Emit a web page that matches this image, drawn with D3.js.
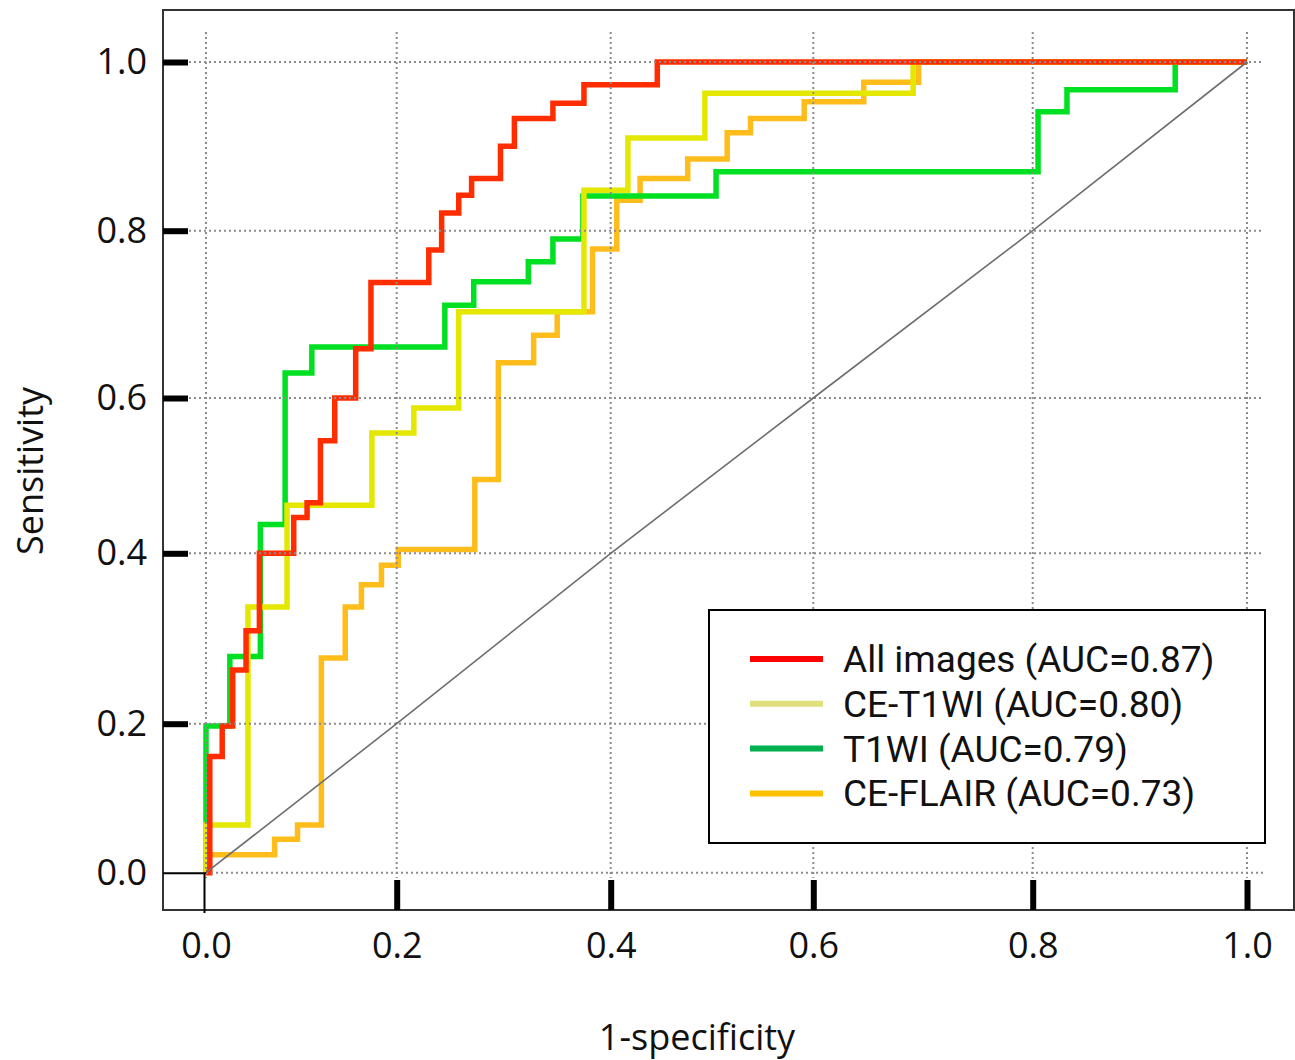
<!DOCTYPE html>
<html lang="en">
<head>
<meta charset="UTF-8">
<title>ROC curves</title>
<style>
  body { margin: 0; background: #fff; }
  text { font-family: "Open Sans", "Noto Sans", sans-serif; fill: #111; }
  .legend text { font-family: Roboto, "Open Sans", sans-serif; }
  .grid line { stroke: #8c8c8c; stroke-width: 2; stroke-dasharray: 2,3; }
  .roc { fill: none; stroke-width: 5.5; stroke-linejoin: miter; stroke-linecap: butt; }
</style>
</head>
<body>
<svg id="chart" width="1295" height="1060"></svg>
<script src="https://d3js.org/d3.v7.min.js"></script>
<script>
// tick values shared by both axes
const tickValues = [0, 0.2, 0.4, 0.6, 0.8, 1.0];

// legend labels
const seriesNames = ["All images (AUC=0.87)", "CE-T1WI (AUC=0.80)", "T1WI (AUC=0.79)", "CE-FLAIR (AUC=0.73)"];

// ROC operating points (1-specificity, sensitivity)
const allFpr = [0, 0.004, 0.017, 0.028, 0.042, 0.056, 0.092, 0.106, 0.120, 0.135, 0.157, 0.173, 0.230, 0.242, 0.258, 0.270, 0.297, 0.310, 0.346, 0.375, 0.446, 1.0];
const allTpr = [0, 0.156, 0.197, 0.263, 0.309, 0.400, 0.446, 0.465, 0.545, 0.600, 0.659, 0.738, 0.777, 0.821, 0.842, 0.862, 0.900, 0.933, 0.951, 0.973, 1.0, 1.0];

const ceT1Fpr = [0, 0, 0.044, 0.085, 0.174, 0.216, 0.258, 0.375, 0.417, 0.493, 0.691, 1.0];
const ceT1Tpr = [0, 0.064, 0.337, 0.462, 0.555, 0.587, 0.703, 0.848, 0.910, 0.963, 1.0, 1.0];

const t1Fpr = [0, 0, 0.025, 0.057, 0.083, 0.111, 0.245, 0.272, 0.323, 0.346, 0.374, 0.504, 0.805, 0.832, 0.933, 1.0];
const t1Tpr = [0, 0.197, 0.279, 0.437, 0.630, 0.661, 0.711, 0.739, 0.763, 0.790, 0.841, 0.870, 0.941, 0.967, 1.0, 1.0];

const flairFpr = [0, 0, 0.072, 0.096, 0.121, 0.146, 0.163, 0.184, 0.2015, 0.273, 0.295, 0.328, 0.350, 0.383, 0.406, 0.429, 0.476, 0.515, 0.538, 0.591, 0.646, 0.696, 1.0];
const flairTpr = [0, 0.024, 0.045, 0.064, 0.277, 0.337, 0.363, 0.386, 0.405, 0.495, 0.642, 0.675, 0.703, 0.778, 0.836, 0.862, 0.885, 0.916, 0.933, 0.953, 0.976, 1.0, 1.0];

const curveColors = ["#ff2d00", "#e4e800", "#00e022", "#ffbd1c"];
const legendColors = ["#ff0000", "#dfe07c", "#00b050", "#ffc000"];

const series = [
    { name: seriesNames[0], fpr: allFpr, tpr: allTpr, color: curveColors[0], key: legendColors[0] },
    { name: seriesNames[1], fpr: ceT1Fpr, tpr: ceT1Tpr, color: curveColors[1], key: legendColors[1] },
    { name: seriesNames[2], fpr: t1Fpr, tpr: t1Tpr, color: curveColors[2], key: legendColors[2] },
    { name: seriesNames[3], fpr: flairFpr, tpr: flairTpr, color: curveColors[3], key: legendColors[3] }
];

const svg = d3.select("#chart");

// the source figure is slightly uneven, so the scales are piecewise
const x = d3.scaleLinear().domain(tickValues).range([206, 396.7, 610.7, 813.3, 1032.7, 1247]);
const y = d3.scaleLinear().domain(tickValues).range([872.7, 723.7, 553.3, 398, 230.7, 62]);

// curves: last legend entry first, so red ends on top
const line = d3.line()
    .x(d => x(d[0]))
    .y(d => y(d[1]))
    .curve(d3.curveStepAfter);

series.slice().reverse().forEach(s => {
    svg.append("path")
        .attr("class", "roc")
        .attr("stroke", s.color)
        .attr("d", line(d3.zip(s.fpr, s.tpr)));
});

// dotted grid over the curves
const grid = svg.append("g").attr("class", "grid");
grid.selectAll(".gx")
    .data(tickValues)
    .join("line")
    .attr("x1", d => x(d)).attr("x2", d => x(d))
    .attr("y1", 32).attr("y2", 878);
grid.selectAll(".gy")
    .data(tickValues)
    .join("line")
    .attr("x1", d => d === 0 ? 206 : 189).attr("x2", 1264)
    .attr("y1", d => y(d)).attr("y2", d => y(d));

// reference diagonal
svg.append("path")
    .attr("fill", "none")
    .attr("stroke", "#6e6e6e")
    .attr("stroke-width", 1.6)
    .attr("d", d3.line().x(d => x(d)).y(d => y(d))(tickValues));

// frame
svg.append("rect")
    .attr("x", 163).attr("y", 10)
    .attr("width", 1131).attr("height", 900)
    .attr("fill", "none")
    .attr("stroke", "#333")
    .attr("stroke-width", 2);

// y axis
const yAxis = svg.append("g")
    .attr("transform", "translate(188,0)")
    .call(d3.axisLeft(y).tickValues(tickValues).tickFormat(d3.format(".1f")).tickSize(25).tickPadding(16));
yAxis.select(".domain").remove();
yAxis.selectAll(".tick line")
    .attr("stroke", "#000")
    .attr("stroke-width", d => d === 0 ? 2 : 6)
    .attr("x1", d => d === 0 ? 18 : 0);
yAxis.selectAll(".tick text")
    .attr("font-size", 36)
    .attr("fill", "#111");

// x axis
const xAxis = svg.append("g")
    .attr("transform", "translate(0,880)")
    .call(d3.axisBottom(x).tickValues(tickValues).tickFormat(d3.format(".1f")).tickSize(30).tickPadding(22));
xAxis.select(".domain").remove();
xAxis.selectAll(".tick line")
    .attr("stroke", "#000")
    .attr("stroke-width", d => d === 0 ? 2 : 6)
    .attr("y1", d => d === 0 ? -7 : 0)
    .attr("y2", d => d === 0 ? 33 : 30)
    .attr("transform", d => d === 0 ? "translate(-2,0)" : null);
xAxis.selectAll(".tick text")
    .attr("font-size", 36)
    .attr("fill", "#111");

// axis titles
svg.append("text")
    .attr("transform", "translate(43,471) rotate(-90)")
    .attr("text-anchor", "middle")
    .attr("font-size", 36)
    .text("Sensitivity");

svg.append("text")
    .attr("x", 697)
    .attr("y", 1050)
    .attr("text-anchor", "middle")
    .attr("font-size", 36)
    .text("1-specificity");

// legend
const legend = svg.append("g").attr("class", "legend");
legend.append("rect")
    .attr("x", 709).attr("y", 610)
    .attr("width", 556).attr("height", 233)
    .attr("fill", "#fff")
    .attr("stroke", "#000")
    .attr("stroke-width", 2);

series.forEach((s, i) => {
    const ly = 659 + i * 44.8;
    legend.append("line")
        .attr("x1", 750).attr("x2", 823)
        .attr("y1", ly).attr("y2", ly)
        .attr("stroke", s.key)
        .attr("stroke-width", 6);
    legend.append("text")
        .attr("x", 843)
        .attr("y", ly)
        .attr("dy", "0.35em")
        .attr("font-size", 37)
        .text(s.name);
});
</script>
</body>
</html>
